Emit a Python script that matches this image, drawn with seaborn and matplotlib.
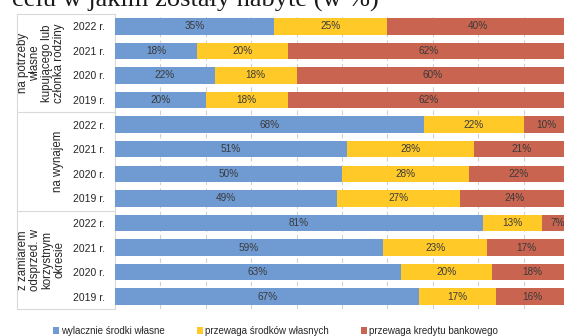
import matplotlib
matplotlib.use("Agg")
import matplotlib.pyplot as plt
from matplotlib.patches import Patch
import numpy as np
import pandas as pd
import seaborn as sns

# --- data -------------------------------------------------------------
group_labels = [
    "na potrzeby\nwłasne\nkupującego lub\nczłonka rodziny",
    "na wynajem",
    "z zamiarem\nodsprzed. w\nkorzystnym\nokresie",
]
years = ["2022 r.", "2021 r.", "2020 r.", "2019 r."]
own_only = [35, 18, 22, 20, 68, 51, 50, 49, 81, 59, 63, 67]
own_major = [25, 20, 18, 18, 22, 28, 28, 27, 13, 23, 20, 17]
credit_major = [40, 62, 60, 62, 10, 21, 22, 24, 7, 17, 18, 16]
series_names = [
    "wylacznie środki własne",
    "przewaga środków własnych",
    "przewaga kredytu bankowego",
]
colors = ["#6F9BD2", "#FFC928", "#C8644F"]

# --- table --------------------------------------------------------------
rows = [f"{g}|{y}" for g in range(len(group_labels)) for y in years]
df = pd.DataFrame({
    "row": rows,
    "own_only": own_only,
    "own_major": own_major,
    "credit_major": credit_major,
})
df["end1"] = df["own_only"]
df["end2"] = df["end1"] + df["own_major"]
df["end3"] = df["end2"] + df["credit_major"]

sns.set_theme(style="white")
plt.rcParams["font.family"] = ["Liberation Sans", "DejaVu Sans"]

W, H = 564, 336
fig = plt.figure(figsize=(W / 100, H / 100), dpi=100)
x0, x1, y0, y1 = 115, 569, 14, 309
ax = fig.add_axes([x0 / W, 1 - y1 / H, (x1 - x0) / W, (y1 - y0) / H])

# stacked bars: draw cumulative totals back to front
for col, color in [("end3", colors[2]), ("end2", colors[1]), ("end1", colors[0])]:
    sns.barplot(data=df, x=col, y="row", order=rows, orient="h", color=color,
                saturation=1, width=0.67, errorbar=None, ax=ax, zorder=3,
                linewidth=0)

# value labels centred in each segment
for i, r in df.iterrows():
    starts = [0, r["end1"], r["end2"]]
    vals = [r["own_only"], r["own_major"], r["credit_major"]]
    for s, v in zip(starts, vals):
        ax.text(s + v / 2, i, f"{v}%", ha="center", va="center",
                fontsize=7.2, color="#3A3A3A", zorder=4)

ax.set_xlim(0, 100)
ax.set_ylim(len(rows) - 0.5, -0.5)
ax.set_xticks(np.arange(10, 100, 10))
ax.set_xticklabels([])
ax.xaxis.grid(True, color="#D0D0D0", linestyle=(0, (4, 3)), linewidth=0.8, zorder=0)
ax.set_xlabel("")
ax.set_ylabel("")
ax.set_yticks(range(len(rows)))
ax.set_yticklabels(years * len(group_labels), fontsize=7.5, color="#262626")
ax.tick_params(axis="y", length=0, pad=7)
ax.tick_params(axis="x", length=0)
for side in ["top", "right", "bottom"]:
    ax.spines[side].set_visible(False)
ax.spines["left"].set_color("#D9D9D9")
ax.spines["left"].set_linewidth(0.8)

# category table on the left
ytr = ax.get_yaxis_transform()
x_left = (17 - x0) / (x1 - x0)
line_kw = dict(color="#D9D9D9", linewidth=0.8, transform=ytr, clip_on=False)
for yb in [-0.5, 3.5, 7.5, 11.5]:
    ax.plot([x_left, 0], [yb, yb], **line_kw)
ax.plot([x_left, x_left], [-0.5, 11.5], **line_kw)

group_pos = [(41, 1.5), (58, 5.5), (41, 9.5)]
for label, (gx, gy) in zip(group_labels, group_pos):
    ax.text((gx - x0) / (x1 - x0), gy, label, transform=ytr, rotation=90,
            ha="center", va="center", multialignment="center",
            fontsize=8.3, linespacing=1.0, color="#262626", clip_on=False)

# legend
handles = [Patch(facecolor=c, edgecolor="none") for c in colors]
fig.legend(handles, series_names, loc="center", ncol=3, frameon=False,
           bbox_to_anchor=(275.5 / W, 1 - 331 / H), fontsize=7,
           handlelength=0.6, handleheight=0.6, handletextpad=0.25,
           columnspacing=3.3, labelcolor="#262626")

# heading
fig.text(12 / W, 1 - 6.5 / H, "celu w jakim zostały nabyte (w %)",
         fontsize=19, family=["Liberation Serif", "DejaVu Serif"],
         va="baseline", ha="left", color="#1A1A1A")

fig.savefig("out.png", dpi=100)
